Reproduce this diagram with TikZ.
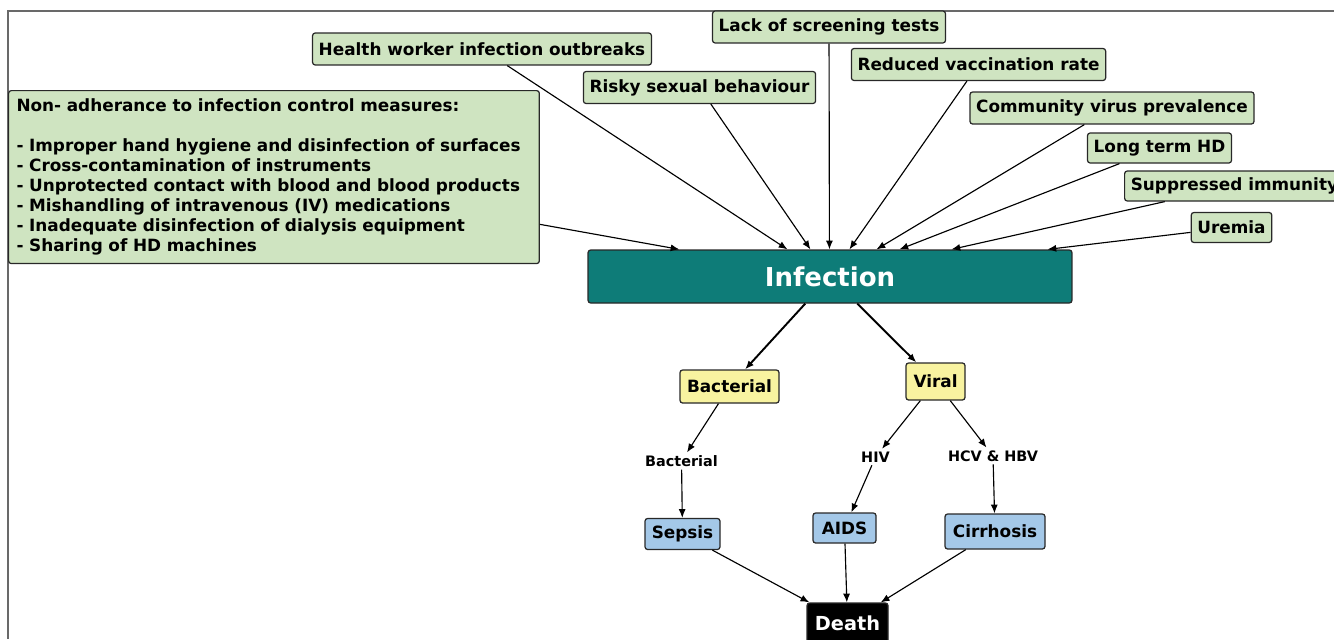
\documentclass[tikz,border=0pt]{standalone}
\usepackage{fontspec}
\setmainfont{DejaVu Sans}
\usetikzlibrary{positioning,arrows.meta,calc}

\definecolor{boxgreen}{RGB}{207,228,193}
\definecolor{boxyellow}{RGB}{248,243,160}
\definecolor{boxblue}{RGB}{164,200,232}
\definecolor{infteal}{RGB}{14,124,120}
\definecolor{edgegray}{RGB}{40,40,40}

\tikzset{
  box/.style={draw=edgegray, line width=0.7pt, rounded corners=1.5pt, inner xsep=3.5pt, inner ysep=0pt,
    minimum height=0.64cm, font=\fontsize{9.6}{11.4}\selectfont\bfseries},
  cause/.style={box, fill=boxgreen},
  kind/.style={box, fill=boxyellow},
  outcome/.style={box, fill=boxblue},
  via/.style={inner sep=1.5pt, font=\fontsize{8.2}{10}\selectfont\bfseries},
  arr/.style={-{Latex[length=5pt,width=4pt]}, line width=0.65pt},
  thickarr/.style={arr, line width=1.1pt}
}

\begin{document}
\begin{tikzpicture}[x=0.02cm,y=-0.02cm]
		\useasboundingbox (0,0) rectangle (1334,639);
		\draw [edgegray!70, line width=0.6pt] (1334,11) -- (8,11) -- (8,639);
		\node [cause, anchor=north west, align=left, text width=10.3cm, minimum height=3.46cm, inner xsep=4.5pt] (nonadh) at (8,90)
			{Non- adherance to infection control measures:\\[\baselineskip]
			- Improper hand hygiene and disinfection of surfaces\\
			- Cross-contamination of instruments\\
			- Unprotected contact with blood and blood products\\
			- Mishandling of intravenous (IV) medications\\
			- Inadequate disinfection of dialysis equipment\\
			- Sharing of HD machines};
		\node [cause] (hw) at (482,49) {Health worker infection outbreaks};
		\node [cause] (risky) at (699.5,87.5) {Risky sexual behaviour};
		\node [cause] (lack) at (829,27) {Lack of screening tests};
		\node [cause] (reduced) at (978.5,64.5) {Reduced vaccination rate};
		\node [cause] (community) at (1112,108) {Community virus prevalence};
		\node [cause, minimum height=0.6cm] (longhd) at (1159.5,148) {Long term HD};
		\node [cause, minimum height=0.6cm, anchor=west] (suppressed) at (1124,186) {Suppressed immunity};
		\node [cause, minimum height=0.6cm] (uremia) at (1231.5,227.5) {Uremia};
		\node [box, fill=infteal, text=white, minimum width=9.68cm, minimum height=1.06cm,
			font=\fontsize{14.8}{17}\selectfont\bfseries] (inf) at (830,276.5) {Infection};
		\foreach \src/\dx in {nonadh/92,hw/200,risky/223,lack/242,reduced/262,community/289,longhd/312,suppressed/364,uremia/460}{
			\coordinate (in-\src) at ($(inf.north west)+(\dx,0)$);
			\draw [arr] (\src) -- (in-\src);
		}
		\node [kind, minimum width=1.98cm, minimum height=0.66cm] (bact) at (729.5,386.5) {Bacterial};
		\node [kind, minimum width=1.18cm, minimum height=0.74cm] (viral) at (935.5,381.5) {Viral};
		\node [via] (lbact) at (681.5,461) {Bacterial};
		\node [via] (lhiv) at (875.5,457) {HIV};
		\node [via] (lhcv) at (993,456) {HCV \& HBV};
		\node [outcome, minimum width=1.5cm, minimum height=0.62cm] (sepsis) at (682.5,534) {Sepsis};
		\node [outcome, minimum width=1.26cm, minimum height=0.6cm] (aids) at (844.5,528) {AIDS};
		\node [outcome, minimum width=2cm, minimum height=0.7cm] (cirr) at (995,531.5) {Cirrhosis};
		\node [box, fill=black, text=white, minimum width=1.62cm, minimum height=0.8cm,
			font=\fontsize{11}{13}\selectfont\bfseries] (death) at (847.5,623) {Death};
		\draw [thickarr] (inf) -- (bact);
		\draw [thickarr] (inf) -- (viral);
		\draw [arr] (bact) -- (lbact);
		\draw [arr] (lbact) -- (sepsis);
		\draw [arr] (viral) -- (lhiv);
		\draw [arr] (viral) -- (lhcv);
		\draw [arr] (lhiv) -- (aids);
		\draw [arr] (lhcv) -- (cirr);
		\draw [arr] (sepsis) -- (death);
		\draw [arr] (aids) -- (death);
		\draw [arr] (cirr) -- (death);
\end{tikzpicture}
\end{document}
